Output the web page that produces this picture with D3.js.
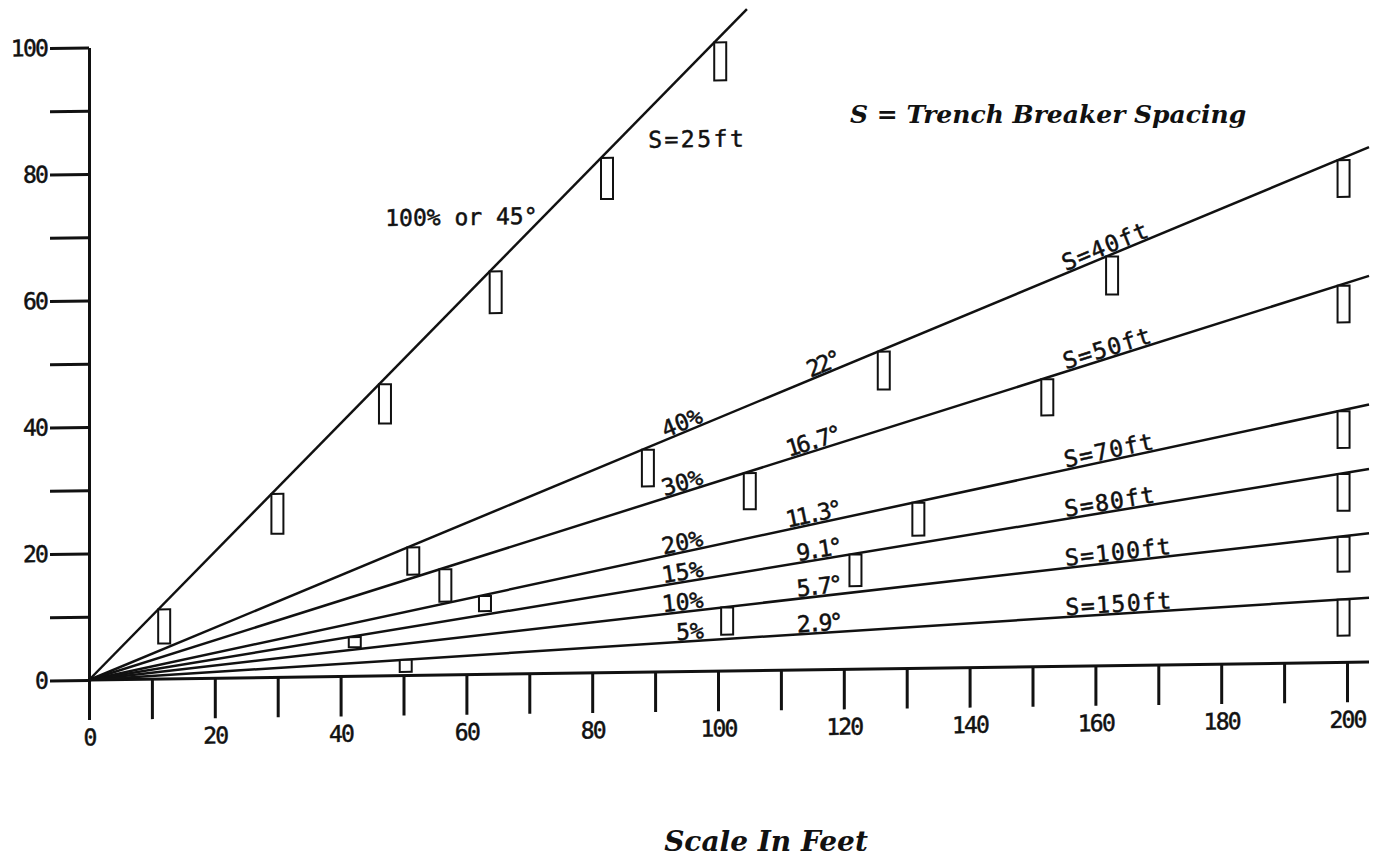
<!DOCTYPE html>
<html>
<head>
<meta charset="utf-8">
<script src="https://cdn.jsdelivr.net/npm/d3@7"></script>
<style>
  body { margin: 0; background: #fff; }
  svg { display: block; }
  .plot-text { font-family: "DejaVu Sans Mono", monospace; font-size: 23px; fill: #111; stroke: #111; stroke-width: 0.5px; }
  .caption { font-family: "DejaVu Serif", serif; font-weight: bold; font-style: italic; fill: #111; }
</style>
</head>
<body>
<div id="chart"></div>
<script>
// slope lines: grade in %, angle label, trench breaker spacing, horizontal end of line
const grades = [100, 40, 30, 20, 15, 10, 5];
const angleLabels = ['45', '22', '16.7', '11.3', '9.1', '5.7', '2.9'];
const spacingFt = [25, 40, 50, 70, 80, 100, 150];
const lineEnds = [104.6, 203.5, 203.5, 203.5, 203.5, 203.5, 203.5];

// trench breakers on each line: horizontal distance (ft) and depth (ft)
const breakerX = [
  [11.0, 29.0, 46.1, 63.7, 81.4, 99.4],
  [50.6, 87.9, 125.4, 161.7, 198.5],
  [55.7, 104.1, 151.4, 198.5],
  [62.0, 130.9, 198.5],
  [41.3, 120.9, 198.5],
  [100.5, 198.5],
  [49.4, 198.5]
];
const breakerDepth = [
  [5.4, 6.3, 6.2, 6.6, 6.5, 6.0],
  [4.3, 5.8, 6.0, 6.0, 5.8],
  [5.1, 5.7, 5.7, 5.8],
  [2.4, 5.2, 5.8],
  [1.6, 5.0, 5.8],
  [4.3, 5.5],
  [1.9, 5.7]
];

const xTicks = d3.range(0, 201, 10);
const yTicks = d3.range(0, 101, 10);

const W = 1378, H = 858;
const svg = d3.select('#chart').append('svg')
  .attr('width', W)
  .attr('height', H);

const x = d3.scaleLinear().domain([0, 200]).range([89, 1347]);
const y = d3.scaleLinear().domain([0, 100]).range([680, 47.5]);

// the plotted sheet is slightly skewed: baseline drops ~18px over the width
const plot = svg.append('g')
  .attr('transform', `translate(${x(0)},${y(0)}) skewY(-0.805) translate(${-x(0)},${-y(0)})`);

// y axis
const yAxis = plot.append('g')
  .attr('transform', `translate(${x(0)},0)`)
  .call(d3.axisLeft(y)
    .tickValues(yTicks)
    .tickSize(39)
    .tickSizeOuter(0)
    .tickPadding(3)
    .tickFormat(d => d % 20 === 0 ? d : ''));
yAxis.select('.domain').attr('stroke', '#111').attr('stroke-width', 3);
yAxis.selectAll('.tick line').attr('stroke', '#111').attr('stroke-width', 3);
yAxis.selectAll('.tick text')
  .attr('class', 'plot-text')
  .attr('font-family', null).attr('font-size', null)
  .style('letter-spacing', '-1.8px');

// x axis (ticks hang below the baseline)
const xAxis = plot.append('g')
  .attr('transform', `translate(0,${y(0)})`)
  .call(d3.axisBottom(x)
    .tickValues(xTicks)
    .tickSize(40)
    .tickSizeOuter(0)
    .tickPadding(9)
    .tickFormat(d => d % 20 === 0 ? d : ''));
xAxis.select('.domain').remove();
xAxis.selectAll('.tick line').attr('stroke', '#111').attr('stroke-width', 3);
xAxis.selectAll('.tick text')
  .attr('class', 'plot-text')
  .attr('font-family', null).attr('font-size', null)
  .style('letter-spacing', '-1.8px');

plot.append('line')
  .attr('x1', x(0)).attr('y1', y(0))
  .attr('x2', x(203.5)).attr('y2', y(0))
  .attr('stroke', '#111').attr('stroke-width', 3);

// slope lines
const lineGen = d3.line().x(d => x(d[0])).y(d => y(d[1]));
const lines = grades.map((g, i) => ({
  grade: g,
  slope: g / 100,
  angle: angleLabels[i],
  spacing: spacingFt[i],
  end: lineEnds[i],
  breakers: breakerX[i].map((bx, j) => ({ x: bx, depth: breakerDepth[i][j] }))
}));

plot.selectAll('.slope-line')
  .data(lines)
  .enter()
  .append('path')
  .attr('class', 'slope-line')
  .attr('d', d => lineGen([[0, 0], [d.end, d.end * d.slope]]))
  .attr('fill', 'none')
  .attr('stroke', '#111')
  .attr('stroke-width', 2.5);

// trench breakers
const breakerW = 12;
lines.forEach(l => {
  plot.selectAll(null)
    .data(l.breakers)
    .enter()
    .append('rect')
    .attr('x', d => x(d.x))
    .attr('y', d => y(d.x * l.slope))
    .attr('width', breakerW)
    .attr('height', d => y(0) - y(d.depth))
    .attr('fill', '#fff')
    .attr('stroke', '#111')
    .attr('stroke-width', 2);
});

// screen angle of a line in the (unskewed) plot group
const screenAngle = m => Math.atan(m * (y(0) - y(1)) / (x(1) - x(0))) * 180 / Math.PI;

function lineLabel(l, xv, text, anchor, spacing) {
  const px = x(xv), py = y(xv * l.slope) - 2;
  plot.append('text')
    .attr('class', 'plot-text')
    .attr('x', px).attr('y', py)
    .attr('text-anchor', anchor)
    .style('letter-spacing', spacing)
    .attr('transform', `rotate(${-screenAngle(l.slope)},${px},${py})`)
    .text(text);
}

lines.slice(1).forEach(l => {
  lineLabel(l, 97.8, l.grade + '%', 'end', '0px');
  lineLabel(l, 119.5, l.angle + '°', 'end', '-3px');
  lineLabel(l, 155.3, 'S=' + l.spacing + 'ft', 'start', '1.5px');
});

// the 45 degree line is labelled beside it
const steep = lines[0];
plot.append('text')
  .attr('class', 'plot-text')
  .attr('x', x(47.1)).attr('y', y(71.1))
  .style('letter-spacing', '0px')
  .text(steep.grade + '% or ' + steep.angle + '°');
plot.append('text')
  .attr('class', 'plot-text')
  .attr('x', x(88.9)).attr('y', y(82.9))
  .style('letter-spacing', '2.5px')
  .text('S=' + steep.spacing + 'ft');

// captions
svg.append('text')
  .attr('class', 'caption')
  .attr('x', 850).attr('y', 123)
  .style('font-size', '25px')
  .text('S = Trench Breaker Spacing');

svg.append('text')
  .attr('class', 'caption')
  .attr('x', 766).attr('y', 851)
  .attr('text-anchor', 'middle')
  .style('font-size', '28px')
  .text('Scale In Feet');
</script>
</body>
</html>
